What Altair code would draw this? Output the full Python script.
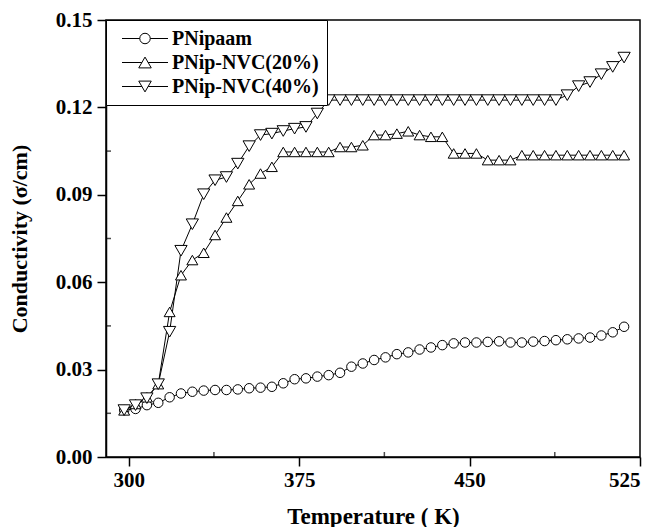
import altair as alt
import pandas as pd

temps = [298, 303, 308, 313, 318, 323, 328, 333, 338, 343, 348, 353, 358, 363, 368,
         373, 378, 383, 388, 393, 398, 403, 408, 413, 418, 423, 428, 433, 438, 443,
         448, 453, 458, 463, 468, 473, 478, 483, 488, 493, 498, 503, 508, 513, 518]

pnipaam = [0.0161, 0.0165, 0.0178, 0.0186, 0.0205, 0.0218, 0.0224, 0.0228, 0.0230, 0.0230,
           0.0232, 0.0236, 0.0238, 0.0241, 0.0253, 0.0267, 0.0270, 0.0276, 0.0281, 0.0289,
           0.0310, 0.0321, 0.0333, 0.0342, 0.0353, 0.0359, 0.0369, 0.0376, 0.0384, 0.0390,
           0.0393, 0.0393, 0.0395, 0.0397, 0.0393, 0.0393, 0.0396, 0.0398, 0.0401, 0.0404,
           0.0407, 0.0410, 0.0417, 0.0428, 0.0447]

nvc20 = [0.0160, 0.0182, 0.0205, 0.0250, 0.0498, 0.0624, 0.0676, 0.0701, 0.0762, 0.0822,
         0.0879, 0.0936, 0.0973, 0.0996, 0.1047, 0.1047, 0.1047, 0.1047, 0.1047, 0.1064,
         0.1064, 0.1070, 0.1105, 0.1105, 0.1110, 0.1118, 0.1105, 0.1099, 0.1099, 0.1042,
         0.1042, 0.1042, 0.1019, 0.1019, 0.1019, 0.1036, 0.1036, 0.1036, 0.1036, 0.1036,
         0.1036, 0.1036, 0.1036, 0.1036, 0.1036]

nvc40 = [0.0161, 0.0178, 0.0202, 0.0250, 0.0430, 0.0708, 0.0799, 0.0902, 0.0950, 0.0961,
         0.1007, 0.1067, 0.1105, 0.1110, 0.1119, 0.1127, 0.1133, 0.1179, 0.1225, 0.1225,
         0.1225, 0.1225, 0.1225, 0.1225, 0.1225, 0.1225, 0.1225, 0.1225, 0.1225, 0.1225,
         0.1225, 0.1225, 0.1225, 0.1225, 0.1225, 0.1225, 0.1225, 0.1225, 0.1225, 0.1242,
         0.1273, 0.1287, 0.1314, 0.1339, 0.1371]

series_names = ["PNipaam", "PNip-NVC(20%)", "PNip-NVC(40%)"]
x_ticks = [300, 375, 450, 525]
x_minor = [337.5, 412.5, 487.5]
y_ticks = [0.00, 0.03, 0.06, 0.09, 0.12, 0.15]
y_minor = [0.015, 0.045, 0.075, 0.105, 0.135]

rows = []
for name, vals in zip(series_names, [pnipaam, nvc20, nvc40]):
    for t, v in zip(temps, vals):
        rows.append({"T": t, "sigma": v, "series": name})
df = pd.DataFrame(rows)

FONT = "Liberation Serif"
X_MIN = 290
xscale = alt.Scale(domain=[X_MIN, 525], nice=False, zero=False)
yscale = alt.Scale(domain=[0, 0.15], nice=False)

x_enc = alt.X("T:Q", scale=xscale,
              axis=alt.Axis(values=x_ticks, title="Temperature ( K)", tickSize=9,
                            labelPadding=3, titlePadding=15, titleFontSize=23))
y_enc = alt.Y("sigma:Q", scale=yscale,
              axis=alt.Axis(values=y_ticks, format=".2f", title="Conductivity (σ/cm)",
                            tickSize=9, labelPadding=5, titlePadding=24, titleFontSize=22))

lines = alt.Chart(df).mark_line(color="black", strokeWidth=1).encode(
    x=x_enc, y=y_enc, detail="series:N", order="T:Q")

points = alt.Chart(df).mark_point(filled=True, fill="white", stroke="black",
                                  strokeWidth=1, opacity=1).encode(
    x=alt.X("T:Q", scale=xscale),
    y=alt.Y("sigma:Q", scale=yscale),
    shape=alt.Shape("series:N", scale=alt.Scale(domain=series_names,
                    range=["circle", "triangle-up", "triangle-down"]), legend=None),
    size=alt.Size("series:N", scale=alt.Scale(domain=series_names, range=[90, 150, 150]),
                  legend=None),
)

# minor ticks (inward), placed through the scales
xminor_df = pd.DataFrame({"v": x_minor})
yminor_df = pd.DataFrame({"v": y_minor})
xminor_layer = alt.Chart(xminor_df).mark_tick(
    orient="vertical", size=5, thickness=1.5, color="black", yOffset=-2.5
).encode(x=alt.X("v:Q", scale=xscale), y=alt.Y(datum=0, scale=yscale))
yminor_layer = alt.Chart(yminor_df).mark_tick(
    orient="horizontal", size=5, thickness=1.5, color="black", xOffset=2.5
).encode(y=alt.Y("v:Q", scale=yscale), x=alt.X(datum=X_MIN, scale=xscale))

# legend symbols: line + marker (unit = 10 px)
circle_path = ("M-2.3,0L-0.525,0M0.525,0L2.3,0"
               "M-0.525,0A0.525,0.525,0,1,1,0.525,0A0.525,0.525,0,1,1,-0.525,0Z")
tri_up_path = "M-2.3,0L-0.3125,0M0.3125,0L2.3,0M0,-0.54L0.625,0.54L-0.625,0.54Z"
tri_dn_path = "M-2.3,0L-0.3125,0M0.3125,0L2.3,0M0,0.54L0.625,-0.54L-0.625,-0.54Z"

leg_df = pd.DataFrame({"series": series_names})
legend_layer = alt.Chart(leg_df).mark_point(
    filled=False, color="black", strokeWidth=1, clip=True
).encode(
    x=alt.X(datum=1000, scale=xscale),
    y=alt.Y(datum=1, scale=yscale),
    shape=alt.Shape("series:N", scale=alt.Scale(domain=series_names,
                    range=[circle_path, tri_up_path, tri_dn_path]),
                    legend=alt.Legend(title=None, orient="top-left", offset=0,
                                      symbolSize=400, symbolOffset=20.5,
                                      symbolStrokeColor="black", symbolStrokeWidth=1,
                                      symbolOpacity=1, labelOffset=16.5, rowPadding=3,
                                      padding=8, strokeColor="black", fillColor="white")),
)

chart = alt.layer(lines, points, xminor_layer, yminor_layer, legend_layer).resolve_scale(
    shape="independent", size="independent"
).properties(
    width=534, height=437,
    autosize=alt.AutoSizeParams(type="none"),
    padding={"left": 98, "top": 12, "right": 10, "bottom": 72},
).configure_view(stroke="black", strokeWidth=1.5).configure_axis(
    labelFont=FONT, labelFontWeight="bold", labelFontSize=21, labelColor="black",
    titleFont=FONT, titleFontWeight="bold", titleColor="black",
    domainColor="black", domainWidth=1.5, tickColor="black", tickWidth=1.5, grid=False,
).configure_legend(
    labelFont=FONT, labelFontWeight="bold", labelFontSize=20, labelColor="black",
)

chart.save("out.html", embed_options={"renderer": "svg", "actions": False})
